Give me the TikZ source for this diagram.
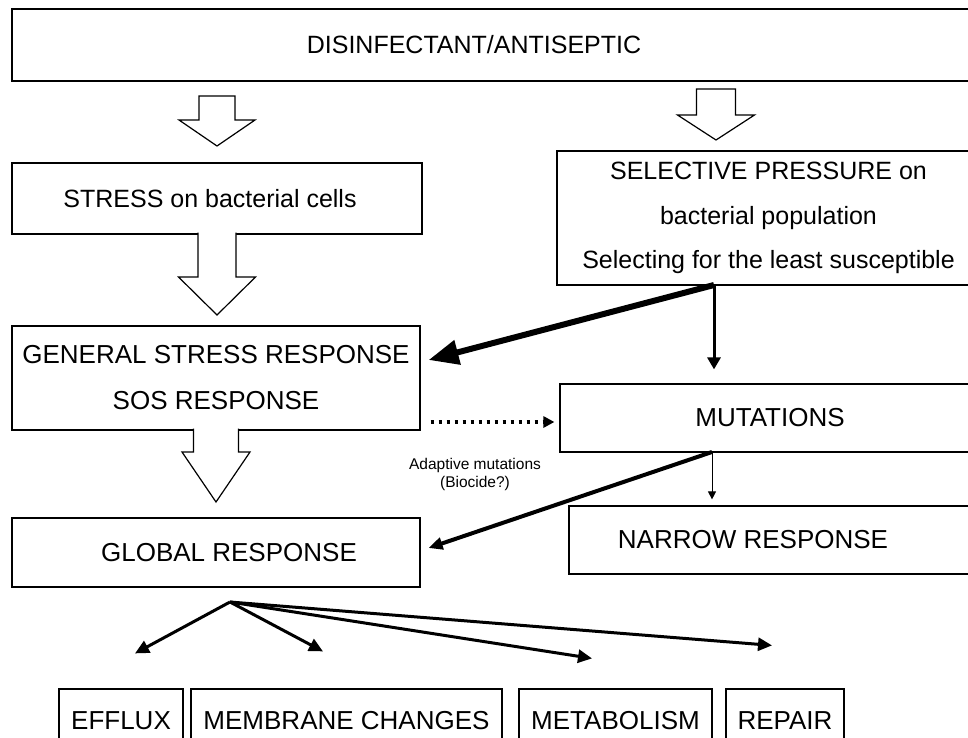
\documentclass[tikz,border=0pt]{standalone}
\usepackage{fontspec}
\setmainfont{Liberation Sans}
\usetikzlibrary{arrows.meta,calc}

\tikzset{
  box/.style={draw, line width=1.2pt, inner sep=0pt, font=\fontsize{26}{30}\selectfont},
  hollow/.style={draw, fill=white, line width=1.2pt, line join=miter},
  heavy/.style={line width=6pt, -{Triangle[length=30pt,width=24pt]}},
  midarrow/.style={line width=3pt, -{Triangle[length=12pt,width=13pt]}},
  medarrow/.style={line width=4pt, -{Triangle[length=14pt,width=12pt]}},
  thinarrow/.style={line width=1pt, -{Triangle[length=8pt,width=8pt]}},
  branch/.style={line width=3pt, -{Triangle[length=14pt,width=13pt]}},
  dotline/.style={line width=3.5pt, dash pattern=on 3.5pt off 4.5pt, -{Triangle[length=11pt,width=11pt]}},
  note/.style={align=center, inner sep=0pt, font=\fontsize{15.5}{18}\selectfont}
}

\begin{document}
\begin{tikzpicture}[x=1pt,y=-1pt]
    \useasboundingbox (0,0) rectangle (968,738);
    \clip (0,0) rectangle (968,738);

    \node[box, minimum width=968pt, minimum height=72pt, font=\fontsize{25}{30}\selectfont] (dis) at (496,45) {DISINFECTANT/ANTISEPTIC\hspace*{44pt}};
    \node[box, minimum width=410pt, minimum height=71pt, font=\fontsize{25}{30}\selectfont] (stress) at (217,198.5) {STRESS on bacterial cells\hspace*{14pt}};
    \node[box, align=center, minimum width=423pt, minimum height=134pt, font=\fontsize{25}{44.5}\selectfont] (sel) at (768.5,218)
        {SELECTIVE PRESSURE on\\bacterial population\\Selecting for the least susceptible};
    \node[box, align=center, minimum width=408pt, minimum height=104pt, font=\fontsize{26}{46}\selectfont] (gen) at (216,378)
        {GENERAL STRESS RESPONSE\\SOS RESPONSE};
    \node[box, minimum width=420pt, minimum height=68pt] (mut) at (770,418) {MUTATIONS};
    \node[box, minimum width=411pt, minimum height=68pt] (nar) at (774.5,540) {NARROW RESPONSE\hspace*{43pt}};
    \node[box, minimum width=408pt, minimum height=69pt] (glob) at (216,552.5) {\hspace*{26pt}GLOBAL RESPONSE};

    \node[box, minimum width=124pt, minimum height=63pt] (efflux) at (121,720.5) {EFFLUX};
    \node[box, minimum width=311pt, minimum height=63pt] (memb) at (346.5,720.5) {MEMBRANE CHANGES};
    \node[box, minimum width=193pt, minimum height=63pt] (meta) at (615.5,720.5) {METABOLISM};
    \node[box, minimum width=118pt, minimum height=63pt] (rep) at (785,720.5) {REPAIR};

    % hollow arrows
    \draw[hollow] (199,96) -- (199,120) -- (179,120) -- (217,146) -- (255,120) -- (235,120) -- (235,96) -- cycle;
    \draw[hollow] (696.5,89) -- (696.5,115) -- (677.5,115) -- (716,140) -- (754.5,115) -- (735.5,115) -- (735.5,89) -- cycle;
    \draw[hollow] (198,232.5) -- (198,277) -- (178.5,277) -- (217,315) -- (255.5,277) -- (236,277) -- (236,232.5);
    \draw[hollow] (193.5,428.5) -- (193.5,452) -- (182,452) -- (216,502) -- (250,452) -- (238.5,452) -- (238.5,428.5);

    \coordinate (selfoot) at (714,285);
    \coordinate (mutfoot) at (712,452);
    \coordinate (hub) at (230,602);

    \draw[heavy] (selfoot) -- ($(gen.east)+(8,-18)$);
    \draw[midarrow] (selfoot) -- ($(selfoot |- mut.north)+(0,-14)$);
    \draw[dotline] ($(gen.east |- mut.west)+(10,4)$) -- ($(mut.west)+(-5,4)$);

    \node[note] (adapt) at (475,474) {Adaptive mutations\\(Biocide?)};

    \draw[thinarrow] (mutfoot) -- ($(mutfoot |- nar.north)+(0,-6)$);
    \draw[medarrow] (mutfoot) -- ($(glob.east)+(8,-4.5)$);

    \foreach \tgt/\dx/\dy in {efflux/14/-35, memb/-23.5/-37, meta/-23.5/-30, rep/-13/-43}
        \draw[branch] (hub) -- ($(\tgt.north)+(\dx,\dy)$);

\end{tikzpicture}
\end{document}
